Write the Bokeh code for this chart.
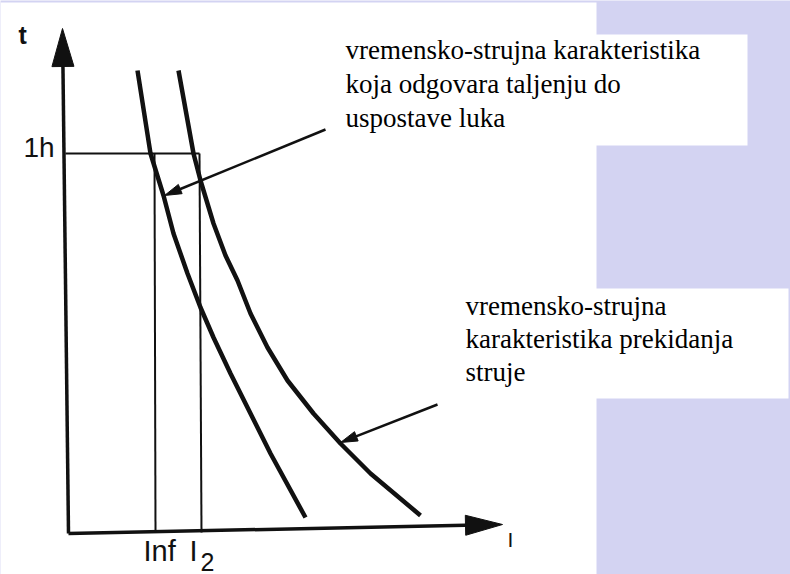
import numpy as np
from bokeh.plotting import figure
from bokeh.models import Range1d, Label
from bokeh.embed import file_html
from bokeh.resources import INLINE

# ---- chart data (drawing units: I to the right of the origin, t upward) ----
# melting (pre-arcing) time-current characteristic
melt_I = [72, 85, 98, 108, 122, 135, 148, 165, 185, 205, 240]
melt_t = [462, 379, 337, 299, 259, 225, 195, 159, 119, 79, 15]
# total clearing (breaking) time-current characteristic
break_I = [113, 128, 135, 148, 160, 172, 185, 202, 222, 248, 275, 305, 355]
break_t = [462, 379, 352, 309, 277, 252, 219, 185, 152, 119, 89, 59, 17]

t_1h = 379      # level of the "1h" mark
I_nf = 89       # conventional non-fusing current
I_2 = 134       # conventional fusing current

tick_t_label = "1h"
tick_I_labels = ["Inf", "I", "2"]
axis_labels = ["t", "I"]
note_melt = ["vremensko-strujna karakteristika", "koja odgovara taljenju do", "uspostave luka"]
note_break = ["vremensko-strujna", "karakteristika prekidanja", "struje"]

LAV = "#d3d3f2"
INK = "#111111"

p = figure(width=790, height=574, output_backend="svg", toolbar_location=None,
           x_range=Range1d(-65, 725), y_range=Range1d(-42, 532),
           min_border=0, outline_line_color=None,
           background_fill_color=LAV, border_fill_color=LAV)
p.xaxis.visible = False
p.yaxis.visible = False
p.grid.visible = False

# backgrounds (white picture area and white text boxes on the lavender slide)
p.quad(left=[-65, 270, 385], right=[531, 682, 723], top=[530, 498, 244],
       bottom=[-42, 387, 134], fill_color="white", line_color=None)


def head(x0, y0, x1, y1, length, width):
    d = np.array([x1 - x0, y1 - y0], dtype=float)
    d /= np.hypot(*d)
    n = np.array([-d[1], d[0]])
    tip = np.array([x1, y1], dtype=float)
    base = tip - d * length
    a = base + n * width / 2
    b = base - n * width / 2
    return [tip[0], a[0], b[0]], [tip[1], a[1], b[1]], base


def arrow(x0, y0, x1, y1, length, width, lw):
    hx, hy, base = head(x0, y0, x1, y1, length, width)
    p.line([x0, base[0] + (x1 - base[0]) * 0.3], [y0, base[1] + (y1 - base[1]) * 0.3],
           line_color=INK, line_width=lw)
    p.patch(hx, hy, fill_color=INK, line_color=INK, line_width=1)


# axes with arrow heads
arrow(3, -1, -3, 504, 38, 22, 3.5)     # t axis
arrow(3, -1, 437, 8, 37, 20, 3.5)      # I axis

# helper lines at 1h, Inf and I2
p.segment(x0=[0, I_nf, I_2], y0=[t_1h, t_1h, t_1h], x1=[I_2, I_nf + 1, I_2 + 2],
          y1=[t_1h, 0, 0], line_color=INK, line_width=2)

# characteristics
p.line(melt_I, melt_t, line_color=INK, line_width=4.5, line_join="round")
p.line(break_I, break_t, line_color=INK, line_width=4.5, line_join="round")

# pointer arrows
arrow(260, 403, 99, 337, 17, 10, 2.5)
arrow(372, 128, 275, 90, 17, 10, 2.5)

# axis labels and tick labels
sans = "'Liberation Sans', Arial, sans-serif"
p.add_layout(Label(x=-47, y=484, text=axis_labels[0], text_font=sans,
                   text_font_size="25px", text_color=INK, text_font_style="bold"))
p.add_layout(Label(x=442, y=-18, text=axis_labels[1], text_font=sans,
                   text_font_size="21px", text_color=INK))
p.add_layout(Label(x=-42, y=t_1h - 9, text=tick_t_label, text_font=sans,
                   text_font_size="28px", text_color=INK))
p.add_layout(Label(x=I_nf - 11, y=-34, text=tick_I_labels[0], text_font=sans,
                   text_font_size="29px", text_color=INK))
p.add_layout(Label(x=I_2 - 10, y=-34, text=tick_I_labels[1], text_font=sans,
                   text_font_size="29px", text_color=INK))
p.add_layout(Label(x=I_2 + 1, y=-38, text=tick_I_labels[2], text_font=sans,
                   text_font_size="25px", text_color=INK))

# explanatory notes
serif = "'Liberation Serif', 'Times New Roman', Times, serif"
for i, line in enumerate(note_melt):
    p.add_layout(Label(x=280, y=468 - 34 * i, text=line, text_font=serif,
                       text_font_size="27px", text_color="black"))
for i, line in enumerate(note_break):
    p.add_layout(Label(x=400, y=212 - 33 * i, text=line, text_font=serif,
                       text_font_size="27px", text_color="black"))

open("out.html", "w").write(file_html(p, INLINE))
